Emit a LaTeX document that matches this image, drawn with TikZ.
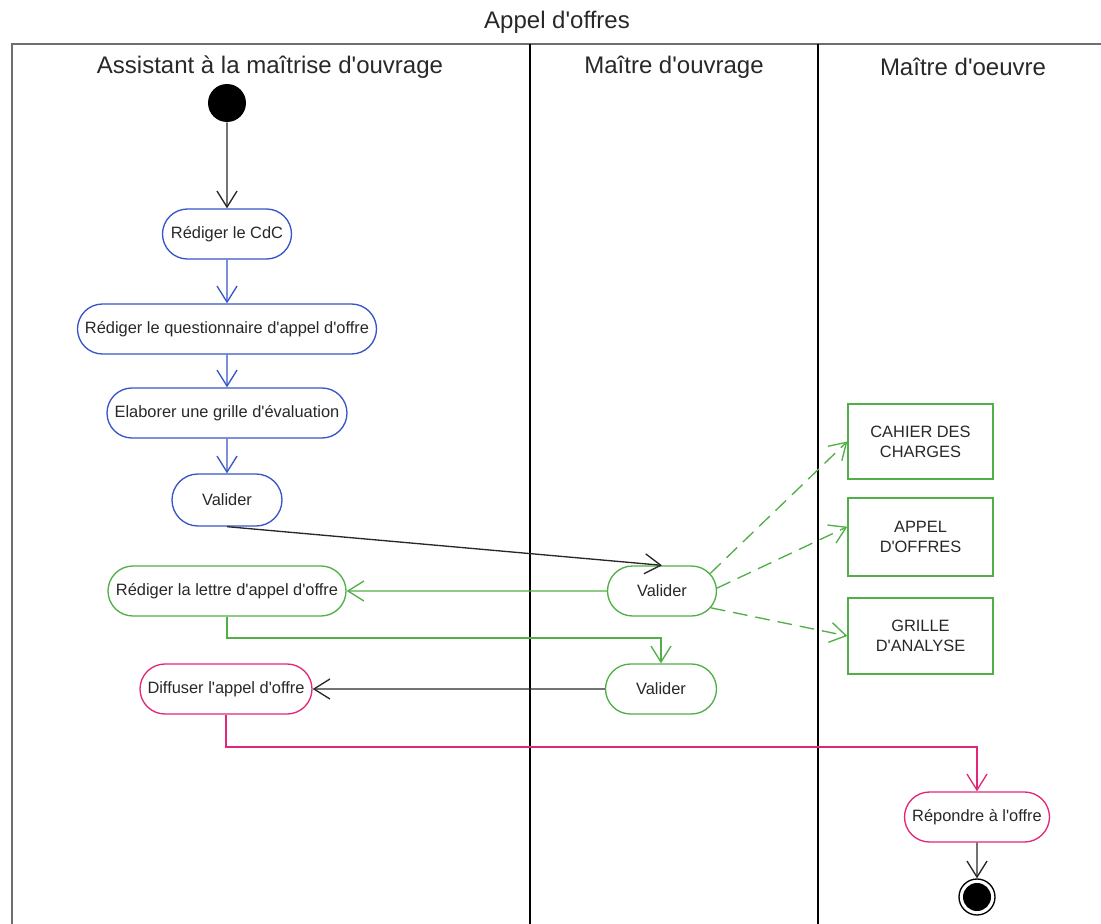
\documentclass[tikz,border=0pt]{standalone}
\usepackage{fontspec}
\setmainfont{Liberation Sans}[Ligatures=TeXOff]
\usetikzlibrary{arrows.meta,shapes.misc}
\definecolor{actblue}{RGB}{55,85,200}
\definecolor{actgreen}{RGB}{80,175,70}
\definecolor{actpink}{RGB}{225,40,120}
\definecolor{ink}{RGB}{40,40,40}
\definecolor{framegray}{RGB}{110,110,110}

\tikzset{
  lbl/.style={text=ink, font=\fontsize{12.3}{14.8}\selectfont, inner sep=0pt},
  head/.style={text=ink, font=\fontsize{18}{21}\selectfont, inner sep=0pt},
  act/.style={lbl, rounded rectangle, draw, line width=1pt, fill=white,
    minimum height=37.5pt, minimum width=#1*0.75pt},
  artefact/.style={lbl, rectangle, draw=actgreen, line width=1pt, fill=white,
    align=center, minimum width=108.75pt, minimum height=#1*0.75pt},
  flow/.style={-{Straight Barb[length=12pt,width=15pt]}, line width=1pt},
  objflow/.style={flow, actgreen, dash pattern=on 11pt off 6pt},
  lane/.style={line width=1.5pt, black},
}

\begin{document}
\begin{tikzpicture}[x=0.75pt,y=-0.75pt]
\useasboundingbox (0,0) rectangle (1101,924);

% swimlane frame and dividers
\draw[framegray, line width=1.5pt] (1101,44) -- (12,44) -- (12,924);
\draw[lane] (530,44) -- (530,924);
\draw[lane] (818,44) -- (818,924);

% titles
\node[head] (title) at (557,22) {Appel d'offres};
\node[head] (h1) at (270,67) {Assistant à la maîtrise d'ouvrage};
\node[head] (h2) at (674,67) {Maître d'ouvrage};
\node[head] (h3) at (963,67) {Maître d'oeuvre};

% initial node
\node[circle, fill=black, minimum size=28.5pt, inner sep=0pt] (start) at (227,103) {};

% activities of the assistant
\node[act=129, draw=actblue] (cdc) at (227,234) {Rédiger le CdC};
\node[act=299, draw=actblue] (quest) at (227,329) {Rédiger le questionnaire d'appel d'offre};
\node[act=240, draw=actblue] (grille) at (227,413) {Elaborer une grille d'évaluation};
\node[act=110, draw=actblue, minimum height=39pt] (v1) at (227,500) {Valider};
\node[act=238, draw=actgreen] (lettre) at (227,591) {Rédiger la lettre d'appel d'offre};
\node[act=172, draw=actpink] (diff) at (226,689) {Diffuser l'appel d'offre};

% activities of the owner
\node[act=109, draw=actgreen] (vmo) at (662,591) {Valider};
\node[act=111, draw=actgreen] (v2) at (661,689) {Valider};

% contractor
\node[act=145, draw=actpink] (rep) at (977,817) {Répondre à l'offre};

% final node
\node[circle, draw=black, line width=1pt, minimum size=27pt, inner sep=0pt] (end) at (977,897) {};
\node[circle, fill=black, minimum size=21pt, inner sep=0pt] (endin) at (end) {};

% produced documents
\node[artefact=75] (cahier) at (920.5,441.5) {CAHIER DES\\CHARGES};
\node[artefact=78] (appel) at (920.5,537) {APPEL\\D'OFFRES};
\node[artefact=76] (grilleA) at (920.5,636) {GRILLE\\D'ANALYSE};

% control flows
\draw[flow, ink] (start) -- (cdc);
\draw[flow, actblue] (cdc) -- (quest);
\draw[flow, actblue] (quest) -- (grille);
\draw[flow, actblue] (grille) -- (v1);
\draw[flow, ink] (v1.south) -- (vmo.north);
\draw[flow, actgreen] (vmo) -- (lettre);
\coordinate (gbend) at (0,638);
\draw[flow, actgreen] (lettre.south) -- (lettre.south |- gbend) -| (v2.north);
\draw[flow, ink] (v2) -- (diff);
\coordinate (pbend) at (0,747);
\draw[flow, actpink] (diff.south) -- (diff.south |- pbend) -| (rep.north);
\draw[flow, ink] (rep) -- (end);

% object flows
\draw[objflow] (vmo.20) -- (cahier.west);
\draw[objflow] (vmo.3) -- (appel.172);
\draw[objflow] (vmo.-19) -- (grilleA.west);
\end{tikzpicture}
\end{document}
